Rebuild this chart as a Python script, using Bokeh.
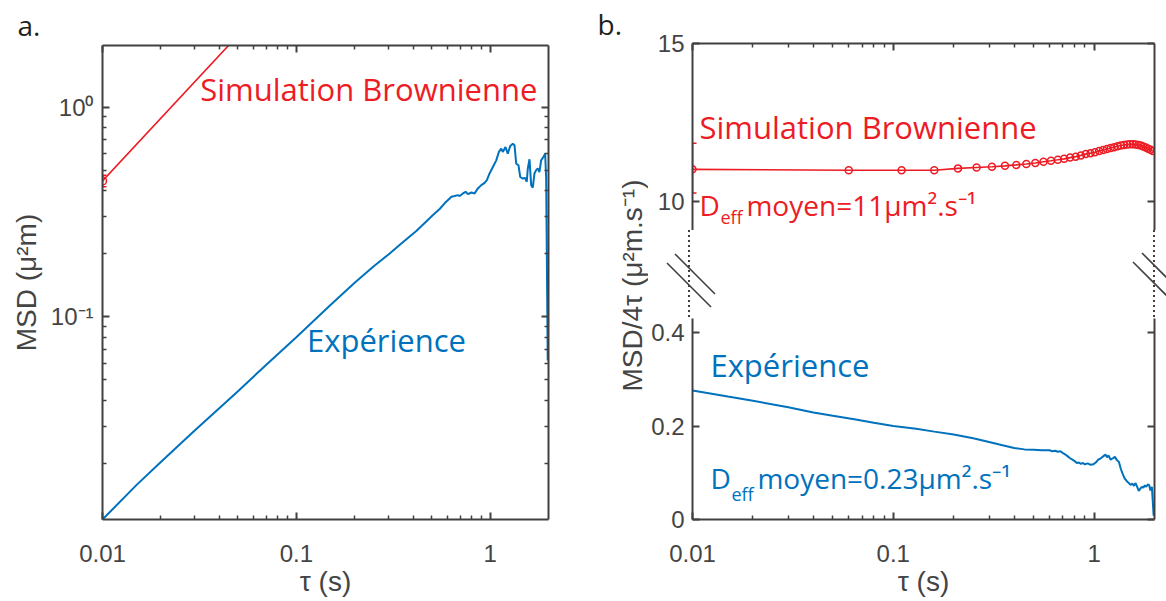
from bokeh.plotting import figure
from bokeh.models import (Range1d, LogAxis, LinearAxis, FixedTicker, Whisker, TeeHead,
                          Label, ColumnDataSource, Div)
from bokeh.layouts import row, column
from bokeh.core.properties import value
from bokeh.embed import file_html
from bokeh.resources import INLINE

# ---------------- data ----------------
# Panel a: MSD vs tau (experiment)
exp_tau_msd = [0.01, 0.015, 0.02, 0.03, 0.05, 0.07, 0.1, 0.15, 0.2, 0.25, 0.3,
               0.342, 0.416, 0.507, 0.549, 0.582, 0.618, 0.631, 0.656, 0.682, 0.696,
               0.724, 0.747, 0.768, 0.80, 0.831, 0.864, 0.90, 0.936, 0.962, 0.993,
               1.033, 1.075, 1.109, 1.141, 1.162, 1.200, 1.233, 1.269, 1.309, 1.336,
               1.363, 1.400, 1.429, 1.474, 1.516, 1.545, 1.564, 1.596, 1.628, 1.659,
               1.693, 1.727, 1.760, 1.796, 1.832, 1.883, 1.922, 1.945, 1.982]
exp_msd = [0.0108, 0.0158, 0.0203, 0.0288, 0.0442, 0.0591, 0.080, 0.114, 0.1456, 0.174, 0.199,
           0.221, 0.257, 0.306, 0.327, 0.348, 0.367, 0.374, 0.377, 0.381, 0.377,
           0.388, 0.395, 0.385, 0.392, 0.388, 0.410, 0.425, 0.436, 0.449, 0.483,
           0.519, 0.558, 0.612, 0.634, 0.612, 0.646, 0.600, 0.653, 0.669, 0.658,
           0.538, 0.529, 0.465, 0.457, 0.460, 0.441, 0.510, 0.565, 0.425, 0.413,
           0.483, 0.501, 0.510, 0.491, 0.558, 0.579, 0.600, 0.457, 0.062]

# Panel a: MSD vs tau (Brownian simulation)
sim_tau_msd = [0.01, 0.06, 0.11]
sim_msd = [0.445, 2.64, 4.84]
sim_msd_err_lo = [0.417]
sim_msd_err_hi = [0.474]

# Panel b: MSD/4tau (Brownian simulation)
sim_tau = [0.01, 0.06, 0.11, 0.16, 0.21, 0.26, 0.31, 0.36, 0.41, 0.46,
           0.51, 0.56, 0.61, 0.66, 0.71, 0.76, 0.81, 0.86, 0.91, 0.96,
           1.01, 1.06, 1.11, 1.16, 1.21, 1.26, 1.31, 1.36, 1.41, 1.46,
           1.51, 1.56, 1.61, 1.66, 1.71, 1.76, 1.81, 1.86, 1.91, 1.96]
sim_d = [11.03, 11.0, 11.0, 11.0, 11.06, 11.09, 11.11, 11.14, 11.17, 11.20,
         11.23, 11.27, 11.30, 11.33, 11.36, 11.40, 11.43, 11.47, 11.51, 11.54,
         11.57, 11.61, 11.64, 11.67, 11.70, 11.73, 11.76, 11.78, 11.80, 11.81,
         11.82, 11.82, 11.81, 11.80, 11.78, 11.75, 11.72, 11.68, 11.65, 11.61]
sim_d_err_lo = [10.28]
sim_d_err_hi = [11.85]

# Panel b: MSD/4tau (experiment)
exp_tau_d = [0.01, 0.015, 0.02, 0.03, 0.04, 0.05, 0.065, 0.08, 0.1, 0.13, 0.16, 0.2,
             0.25, 0.3, 0.35, 0.4, 0.45, 0.5, 0.55, 0.6, 0.62, 0.64, 0.66, 0.68,
             0.70, 0.72, 0.74, 0.76, 0.78, 0.80, 0.82, 0.84, 0.86, 0.88, 0.90, 0.93,
             0.96, 0.99, 1.02, 1.05, 1.08, 1.11, 1.14, 1.16, 1.18, 1.21, 1.24, 1.27,
             1.30, 1.33, 1.36, 1.39, 1.42, 1.45, 1.48, 1.52, 1.55, 1.58, 1.61, 1.64,
             1.67, 1.70, 1.73, 1.76, 1.79, 1.82, 1.85, 1.88, 1.91, 1.94, 1.96, 1.98]
exp_d = [0.276, 0.263, 0.254, 0.240, 0.229, 0.222, 0.214, 0.207, 0.200, 0.194, 0.188, 0.182,
         0.174, 0.166, 0.159, 0.153, 0.150, 0.149, 0.148, 0.148, 0.146, 0.147, 0.145, 0.146,
         0.142, 0.139, 0.135, 0.131, 0.128, 0.125, 0.121, 0.122, 0.119, 0.121, 0.118, 0.120,
         0.117, 0.118, 0.122, 0.128, 0.131, 0.135, 0.139, 0.133, 0.137, 0.128, 0.131, 0.134,
         0.127, 0.123, 0.108, 0.097, 0.088, 0.083, 0.079, 0.074, 0.077, 0.072, 0.078, 0.070,
         0.061, 0.066, 0.070, 0.068, 0.073, 0.070, 0.075, 0.074, 0.062, 0.070, 0.040, 0.008]

# ticks
x_major = [0.01, 0.1, 1]
x_labels = {0.01: "0.01", 0.1: "0.1", 1: "1"}
ya_major = [0.1, 1]
ya_labels = {0.1: "10⁻¹", 1: "10⁰"}
yb_top_major = [10, 15]
yb_top_labels = {10: "10", 15: "15"}
yb_bot_major = [0, 0.2, 0.4]
yb_bot_labels = {0: "0", 0.2: "0.2", 0.4: "0.4"}

# ---------------- style ----------------
RED = "#ED1C24"
BLUE = "#0072BD"
AX = "#404040"
TXT = "#444444"
TICK_FONT = "Liberation Sans"
ANN_FONT = "Open Sans"
H = 601
BOTTOM = 82          # space below the plot frames


def minors(decades):
    return [m * d for d in decades for m in range(2, 10)]


x_minor = minors([0.01, 0.1])
ya_minor = minors([0.01, 0.1])


def style_axis(ax, labels=True, standoff=9):
    ax.axis_line_color = AX
    ax.axis_line_width = 2
    ax.major_tick_line_color = AX
    ax.minor_tick_line_color = AX
    ax.major_tick_line_width = 2
    ax.minor_tick_line_width = 1.5
    ax.major_tick_in = 7
    ax.major_tick_out = 0
    ax.minor_tick_in = 4
    ax.minor_tick_out = 0
    ax.major_label_text_font = TICK_FONT
    ax.major_label_text_color = TXT
    if labels:
        ax.major_label_text_font_size = "24px"
        ax.major_label_standoff = standoff
    else:
        ax.major_label_text_font_size = "1px"
        ax.major_label_text_color = None
        ax.major_label_standoff = 0
    ax.axis_label_text_font = TICK_FONT
    ax.axis_label_text_font_size = "28px"
    ax.axis_label_text_font_style = "normal"
    ax.axis_label_text_color = TXT


def base_fig(**kw):
    p = figure(output_backend="svg", toolbar_location=None, **kw)
    p.grid.visible = False
    p.outline_line_color = None
    p.background_fill_color = "white"
    p.border_fill_color = "white"
    return p


def add_label(p, x, y, text, color, size, x_offset=0):
    p.add_layout(Label(x=x, y=y, text=text, x_offset=x_offset,
                       y_offset=round(0.36 * size),
                       text_font=ANN_FONT, text_font_size="%dpx" % size,
                       text_color=color, text_baseline="alphabetic", text_align="left"))


# ---------------- panel a ----------------
p1 = base_fig(width=590, height=H, x_axis_type="log", y_axis_type="log",
              x_range=Range1d(0.01, 2), y_range=Range1d(0.0108, 1.97),
              min_border_left=102, min_border_right=42, min_border_top=43,
              min_border_bottom=BOTTOM)
p1.title.text = "a."
p1.title.align = "left"
p1.title.offset = -85
p1.title.standoff = 3
p1.title.text_font = ANN_FONT
p1.title.text_font_size = "28px"
p1.title.text_font_style = "normal"
p1.title.text_color = "#231f20"

p1.xaxis.ticker = FixedTicker(ticks=x_major, minor_ticks=x_minor)
p1.xaxis.major_label_overrides = x_labels
p1.yaxis.ticker = FixedTicker(ticks=ya_major, minor_ticks=ya_minor)
p1.yaxis.major_label_overrides = ya_labels
style_axis(p1.xaxis[0], standoff=25)
style_axis(p1.yaxis[0])
p1.xaxis.axis_label = "τ (s)"
p1.xaxis.axis_label_standoff = 1
p1.yaxis.axis_label = "MSD (μ²m)"
p1.yaxis.axis_label_standoff = 6
top_a = LogAxis(ticker=FixedTicker(ticks=x_major, minor_ticks=x_minor))
style_axis(top_a, labels=False)
p1.add_layout(top_a, "above")
right_a = LogAxis(ticker=FixedTicker(ticks=ya_major, minor_ticks=ya_minor))
style_axis(right_a, labels=False)
p1.add_layout(right_a, "right")

p1.line(exp_tau_msd, exp_msd, line_color=BLUE, line_width=2)
p1.line(sim_tau_msd, sim_msd, line_color=RED, line_width=1.6)
p1.scatter(sim_tau_msd, sim_msd, marker="circle", size=8, fill_color=None,
           line_color=RED, line_width=1.5)
src_a = ColumnDataSource(dict(base=sim_tau_msd[:1], lower=sim_msd_err_lo, upper=sim_msd_err_hi))
p1.add_layout(Whisker(base="base", lower="lower", upper="upper", source=src_a,
                      dimension="height", line_color=RED, line_width=1.5,
                      upper_head=TeeHead(size=8, line_color=RED, line_width=1.5),
                      lower_head=TeeHead(size=8, line_color=RED, line_width=1.5)))

add_label(p1, 0.0319, 1.083, "Simulation Brownienne", RED, 31)
add_label(p1, 0.1135, 0.0687, "Expérience", BLUE, 31)

# ---------------- strip between panels (letter b. + y label of panel b) ----------------
sm = base_fig(width=58, height=H, x_range=Range1d(0, 58), y_range=Range1d(0, H - 43 - BOTTOM),
              x_axis_location=None, y_axis_location=None,
              min_border_left=0, min_border_right=0, min_border_top=43,
              min_border_bottom=BOTTOM)
sm.title.text = "b."
sm.title.align = "left"
sm.title.offset = 7
sm.title.standoff = 5
sm.title.text_font = ANN_FONT
sm.title.text_font_size = "28px"
sm.title.text_font_style = "normal"
sm.title.text_color = "#231f20"
sm.text(x=[42], y=[H - BOTTOM - 284], text=["MSD/4τ (μ²m.s⁻¹)"], angle=1.5707963,
        text_font=value(TICK_FONT), text_font_size=value("28px"), text_color=TXT,
        text_align="center", text_baseline="middle")

# ---------------- panel b: upper part ----------------
r1 = base_fig(width=518, height=230, x_axis_type="log",
              x_range=Range1d(0.01, 2), y_range=Range1d(9.1, 15),
              x_axis_location="above",
              min_border_left=41, min_border_right=12, min_border_top=43,
              min_border_bottom=0)
r1.xaxis.ticker = FixedTicker(ticks=x_major, minor_ticks=x_minor)
style_axis(r1.xaxis[0], labels=False)
r1.yaxis.ticker = FixedTicker(ticks=yb_top_major, minor_ticks=[])
r1.yaxis.major_label_overrides = yb_top_labels
style_axis(r1.yaxis[0], standoff=8)
rr1 = LinearAxis(ticker=FixedTicker(ticks=yb_top_major, minor_ticks=[]))
style_axis(rr1, labels=False)
r1.add_layout(rr1, "right")

r1.line(sim_tau, sim_d, line_color=RED, line_width=1.6)
r1.scatter(sim_tau, sim_d, marker="circle", size=7, fill_color=None,
           line_color=RED, line_width=1.5)
src_b = ColumnDataSource(dict(base=sim_tau[:1], lower=sim_d_err_lo, upper=sim_d_err_hi))
r1.add_layout(Whisker(base="base", lower="lower", upper="upper", source=src_b,
                      dimension="height", line_color=RED, line_width=1.5,
                      upper_head=TeeHead(size=8, line_color=RED, line_width=1.5),
                      lower_head=TeeHead(size=8, line_color=RED, line_width=1.5)))
add_label(r1, 0.01083, 12.03, "Simulation Brownienne", RED, 31)
add_label(r1, 0.01083, 9.574, "D", RED, 28)
add_label(r1, 0.01083, 9.35, "eff", RED, 18, x_offset=21)
add_label(r1, 0.01083, 9.574, "moyen=11µm².s⁻¹", RED, 28, x_offset=47)

# ---------------- panel b: axis break (dotted axis + break marks) ----------------
gap_svg = (
    '<svg width="518" height="88" style="display:block" xmlns="http://www.w3.org/2000/svg">'
    '<g stroke="%s" stroke-width="2" stroke-dasharray="2 3">'
    '<line x1="41" y1="0" x2="41" y2="88"/><line x1="506" y1="0" x2="506" y2="88"/></g>'
    '<g stroke="%s" stroke-width="1.6">'
    '<line x1="19" y1="33" x2="63" y2="77"/><line x1="27" y1="24" x2="67" y2="64"/>'
    '<line x1="485" y1="32" x2="527" y2="74"/><line x1="494" y1="23" x2="532" y2="61"/>'
    '</g></svg>' % (AX, AX))
gap = Div(text=gap_svg, width=518, height=88, styles={"margin": "0", "padding": "0"})

# ---------------- panel b: lower part ----------------
r2 = base_fig(width=518, height=H - 318, x_axis_type="log",
              x_range=Range1d(0.01, 2), y_range=Range1d(0, 0.43),
              min_border_left=41, min_border_right=12, min_border_top=0,
              min_border_bottom=BOTTOM)
r2.xaxis.ticker = FixedTicker(ticks=x_major, minor_ticks=x_minor)
r2.xaxis.major_label_overrides = x_labels
style_axis(r2.xaxis[0], standoff=25)
r2.xaxis.axis_label = "τ (s)"
r2.xaxis.axis_label_standoff = 1
r2.yaxis.ticker = FixedTicker(ticks=yb_bot_major, minor_ticks=[])
r2.yaxis.major_label_overrides = yb_bot_labels
style_axis(r2.yaxis[0], standoff=8)
rr2 = LinearAxis(ticker=FixedTicker(ticks=yb_bot_major, minor_ticks=[]))
style_axis(rr2, labels=False)
r2.add_layout(rr2, "right")

r2.line(exp_tau_d, exp_d, line_color=BLUE, line_width=2)
add_label(r2, 0.01228, 0.3067, "Expérience", BLUE, 31)
add_label(r2, 0.01228, 0.0667, "D", BLUE, 28)
add_label(r2, 0.01228, 0.042, "eff", BLUE, 18, x_offset=21)
add_label(r2, 0.01228, 0.0667, "moyen=0.23µm².s⁻¹", BLUE, 28, x_offset=47)

layout = row(p1, sm, column(r1, gap, r2))
open("out.html", "w").write(file_html(layout, INLINE))
